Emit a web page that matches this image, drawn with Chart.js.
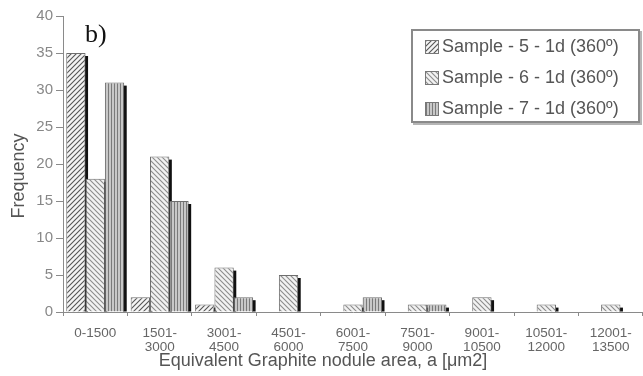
<!DOCTYPE html>
<html>
<head>
<meta charset="utf-8">
<script src="https://cdn.jsdelivr.net/npm/chart.js@4.4.1/dist/chart.umd.min.js"></script>
<style>
  html, body { margin: 0; padding: 0; background: #fff; overflow: hidden; }
  #wrap { position: relative; width: 643px; height: 376px; }
  #legend {
    position: absolute; left: 411px; top: 29px; width: 225px; height: 90px;
    border: 2px solid #8a8a8a; box-shadow: 2px 2px 0 #b5b5b5; background: #fff;
    font-family: "Liberation Sans", Arial, sans-serif; font-size: 18px; color: #555;
    padding-top: 0; box-sizing: content-box;
  }
  .item { display: flex; align-items: center; height: 31px; padding-left: 12px; white-space: nowrap; }
  .item canvas { border: 1px solid #777; margin-right: 3px; }
</style>
</head>
<body>
<div id="wrap">
  <canvas id="c" width="643" height="376"></canvas>
  <div id="legend"></div>
</div>
<script>
// Nodule-area classes and frequency counts per sample
const categories = [
  ['0-1500'], ['1501-', '3000'], ['3001-', '4500'], ['4501-', '6000'],
  ['6001-', '7500'], ['7501-', '9000'], ['9001-', '10500'],
  ['10501-', '12000'], ['12001-', '13500']
];
const seriesNames = ['Sample - 5 - 1d (360º)', 'Sample - 6 - 1d (360º)', 'Sample - 7 - 1d (360º)'];
const sample5 = [35, 2, 1, 0, 0, 0, 0, 0, 0];
const sample6 = [18, 21, 6, 5, 1, 1, 2, 1, 1];
const sample7 = [31, 15, 2, 0, 2, 1, 0, 0, 0];
const yTicks = [0, 5, 10, 15, 20, 25, 30, 35, 40];

// Hatch fills
function makeTile(kind) {
  const t = document.createElement('canvas');
  const ctx = t.getContext('2d');
  if (kind === 'fwd' || kind === 'back') {
    const s = 5;
    t.width = s; t.height = s;
    ctx.fillStyle = kind === 'fwd' ? '#f4f4f4' : '#f2f2f2';
    ctx.fillRect(0, 0, s, s);
    ctx.strokeStyle = kind === 'fwd' ? '#555' : '#8c8c8c';
    ctx.lineWidth = 1.1;
    ctx.beginPath();
    if (kind === 'fwd') {
      ctx.moveTo(-1, s + 1); ctx.lineTo(s + 1, -1);
      ctx.moveTo(-1, 1); ctx.lineTo(1, -1);
      ctx.moveTo(s - 1, s + 1); ctx.lineTo(s + 1, s - 1);
    } else {
      ctx.moveTo(-1, -1); ctx.lineTo(s + 1, s + 1);
      ctx.moveTo(s - 1, -1); ctx.lineTo(s + 1, 1);
      ctx.moveTo(-1, s - 1); ctx.lineTo(1, s + 1);
    }
    ctx.stroke();
  } else {
    t.width = 3; t.height = 4;
    ctx.fillStyle = '#c8c8c8';
    ctx.fillRect(0, 0, 3, 4);
    ctx.fillStyle = '#7a7a7a';
    ctx.fillRect(0, 0, 1, 4);
  }
  return t;
}
const tiles = [makeTile('fwd'), makeTile('back'), makeTile('vert')];
const mainCtx = document.getElementById('c').getContext('2d');
const fills = tiles.map(t => mainCtx.createPattern(t, 'repeat'));

// Dark drop shadow on the right side of each bar
const barShadow = {
  id: 'barShadow',
  beforeDatasetsDraw(chart) {
    const ctx = chart.ctx;
    ctx.save();
    ctx.fillStyle = '#111';
    chart.data.datasets.forEach((ds, i) => {
      chart.getDatasetMeta(i).data.forEach((bar, j) => {
        if (!ds.data[j]) return;
        const right = bar.x + bar.width / 2;
        ctx.fillRect(right - 1, bar.y + 3, 3.5, bar.base - bar.y - 3);
      });
    });
    ctx.restore();
  }
};

// Panel tag and axis titles
const texts = {
  id: 'texts',
  afterDraw(chart) {
    const ctx = chart.ctx;
    ctx.save();
    ctx.fillStyle = '#111';
    ctx.font = '26px "Liberation Serif", "Times New Roman", serif';
    ctx.textBaseline = 'alphabetic';
    ctx.textAlign = 'left';
    ctx.fillText('b)', 85, 42);

    ctx.fillStyle = '#555';
    ctx.font = '18px "Liberation Sans", Arial, sans-serif';
    ctx.textAlign = 'center';
    ctx.textBaseline = 'middle';
    ctx.fillText('Equivalent Graphite nodule area, a [μm2]', 323, 361);

    ctx.translate(19, 176);
    ctx.rotate(-Math.PI / 2);
    ctx.font = '18px "Liberation Sans", Arial, sans-serif';
    ctx.fillText('Frequency', 0, 0);
    ctx.restore();
  }
};

const data = {
  labels: categories,
  datasets: [sample5, sample6, sample7].map((vals, i) => ({
    label: seriesNames[i],
    data: vals,
    backgroundColor: fills[i],
    borderColor: '#6e6e6e',
    borderWidth: 1,
    borderSkipped: 'bottom',
    barPercentage: 1.0,
    categoryPercentage: 0.9
  }))
};

new Chart(document.getElementById('c'), {
  type: 'bar',
  data,
  plugins: [barShadow, texts],
  options: {
    responsive: false,
    animation: false,
    layout: { padding: { top: 16, left: 0, right: 0, bottom: 0 } },
    plugins: { legend: { display: false }, tooltip: { enabled: false } },
    scales: {
      x: {
        afterFit(s) { s.height = 64; },
        grid: { drawOnChartArea: false, tickLength: 4, color: '#8a8a8a', offset: true },
        border: { color: '#8a8a8a', width: 1 },
        ticks: {
          color: '#666', padding: 10,
          font: { family: '"Liberation Sans", Arial, sans-serif', size: 13.5, lineHeight: 1.05 },
          maxRotation: 0, autoSkip: false
        }
      },
      y: {
        min: 0, max: 40,
        afterFit(s) { s.width = 63; },
        afterBuildTicks(s) { s.ticks = yTicks.map(v => ({ value: v })); },
        grid: { drawOnChartArea: false, tickLength: 7, color: '#8a8a8a' },
        border: { color: '#8a8a8a', width: 1 },
        ticks: {
          color: '#888', padding: 3,
          font: { family: '"Liberation Sans", Arial, sans-serif', size: 15 }
        }
      }
    }
  }
});

// Legend entries with the same hatch swatches
const legend = document.getElementById('legend');
seriesNames.forEach((name, i) => {
  const row = document.createElement('div');
  row.className = 'item';
  const sw = document.createElement('canvas');
  sw.width = 12; sw.height = 12;
  const sctx = sw.getContext('2d');
  sctx.fillStyle = sctx.createPattern(tiles[i], 'repeat');
  sctx.fillRect(0, 0, 12, 12);
  row.appendChild(sw);
  const span = document.createElement('span');
  span.textContent = name;
  row.appendChild(span);
  legend.appendChild(row);
});
</script>
</body>
</html>
